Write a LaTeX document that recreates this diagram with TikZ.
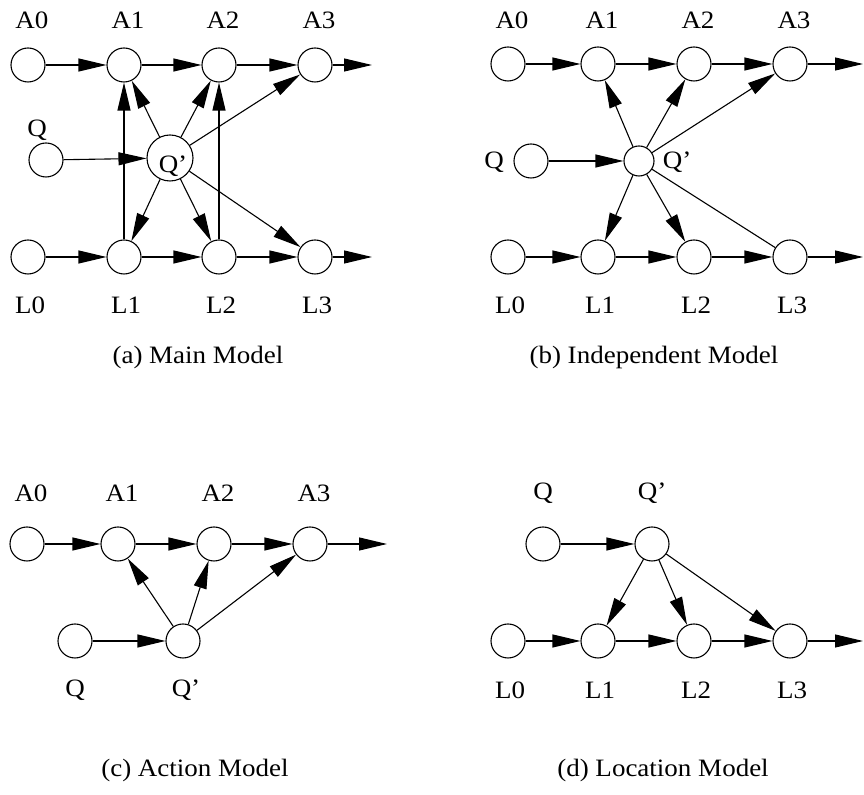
\documentclass[tikz,border=0pt]{standalone}
\usepackage{fontspec}
\setmainfont[FakeStretch=1.08]{Liberation Serif}
\usetikzlibrary{arrows.meta}

\begin{document}
\begin{tikzpicture}[x=0.5pt, y=-0.5pt, font=\fontsize{12.5}{14}\selectfont,
		>={Triangle[length=14pt, width=6.5pt]}, line width=0.55pt,
		st/.style={circle, draw, inner sep=0pt, minimum size=17pt},
		bigst/.style={st, minimum size=23pt},
		smallst/.style={st, minimum size=15pt},
		captxt/.style={inner sep=0pt}]
	\useasboundingbox (0,0) rectangle (864,795);
	% (a) main model
	\foreach \n/\x in {0/28,1/124,2/219,3/315} {
		\node[st] (aA\n) at (\x,65)  {};
		\node[st] (aL\n) at (\x,257) {};
		\node (aAt\n) at (\x+4,20)  {A\n};
		\node (aLt\n) at (\x+2,305) {L\n};
	}
	\coordinate (aAe) at (372,65);
	\coordinate (aLe) at (372,257);
	\node[st]    (aQ)  at (46,160)  {};
	\node[bigst] (aQp) at (170,158) {};
	\node (aQt)  at (37,130)  {Q};
	\node (aQpt) at (173,166) {Q'};
	\foreach \i/\j in {0/1,1/2,2/3} {
		\draw[->] (aA\i) -- (aA\j);
		\draw[->] (aL\i) -- (aL\j);
	}
	\draw[->] (aA3) -- (aAe);
	\draw[->] (aL3) -- (aLe);
	\draw[->] (aQ) -- (aQp);
	\foreach \k in {1,2,3} {
		\draw[->] (aQp) -- (aA\k);
		\draw[->] (aQp) -- (aL\k);
	}
	\draw[->] (aL1) -- (aA1);
	\draw[->] (aL2) -- (aA2);
	\node[captxt] (acap) at (198,357) {(a) Main Model};

	% (b) independent model
	\foreach \n/\x in {0/508,1/598,2/694,3/790} {
		\node[st] (bA\n) at (\x,64)  {};
		\node[st] (bL\n) at (\x,257) {};
		\node (bAt\n) at (\x+4,20)  {A\n};
		\node (bLt\n) at (\x+2,305) {L\n};
	}
	\coordinate (bAe) at (863,64);
	\coordinate (bLe) at (863,257);
	\node[st]      (bQ)  at (531,161) {};
	\node[smallst] (bQp) at (639,161) {};
	\node (bQt)  at (494,162) {Q};
	\node (bQpt) at (677,162) {Q'};
	\foreach \i/\j in {0/1,1/2,2/3} {
		\draw[->] (bA\i) -- (bA\j);
		\draw[->] (bL\i) -- (bL\j);
	}
	\draw[->] (bA3) -- (bAe);
	\draw[->] (bL3) -- (bLe);
	\draw[->] (bQ) -- (bQp);
	\foreach \k in {1,2,3} \draw[->] (bQp) -- (bA\k);
	\draw[->] (bQp) -- (bL1);
	\draw[->] (bQp) -- (bL2);
	\draw (bQp) -- (bL3);
	\node[captxt] (bcap) at (654,357) {(b) Independent Model};

	% (c) action model
	\foreach \n/\x in {0/27,1/118,2/214,3/310} {
		\node[st] (cA\n) at (\x,544) {};
		\node (cAt\n) at (\x+4,493) {A\n};
	}
	\coordinate (cAe) at (387,544);
	\node[st] (cQ)  at (75,641)  {};
	\node[st] (cQp) at (183,641) {};
	\node (cQt)  at (75,690)  {Q};
	\node (cQpt) at (186,690) {Q'};
	\foreach \i/\j in {0/1,1/2,2/3} \draw[->] (cA\i) -- (cA\j);
	\draw[->] (cA3) -- (cAe);
	\draw[->] (cQ) -- (cQp);
	\foreach \k in {1,2,3} \draw[->] (cQp) -- (cA\k);
	\node[captxt] (ccap) at (195,770) {(c) Action Model};

	% (d) location model
	\foreach \n/\x in {0/508,1/598,2/694,3/790} {
		\node[st] (dL\n) at (\x,641) {};
		\node (dLt\n) at (\x+2,690) {L\n};
	}
	\coordinate (dLe) at (863,641);
	\node[st] (dQ)  at (543,544) {};
	\node[st] (dQp) at (652,544) {};
	\node (dQt)  at (543,493) {Q};
	\node (dQpt) at (652,493) {Q'};
	\foreach \i/\j in {0/1,1/2,2/3} \draw[->] (dL\i) -- (dL\j);
	\draw[->] (dL3) -- (dLe);
	\draw[->] (dQ) -- (dQp);
	\foreach \k in {1,2,3} \draw[->] (dQp) -- (dL\k);
	\node[captxt] (dcap) at (663,770) {(d) Location Model};
\end{tikzpicture}
\end{document}
